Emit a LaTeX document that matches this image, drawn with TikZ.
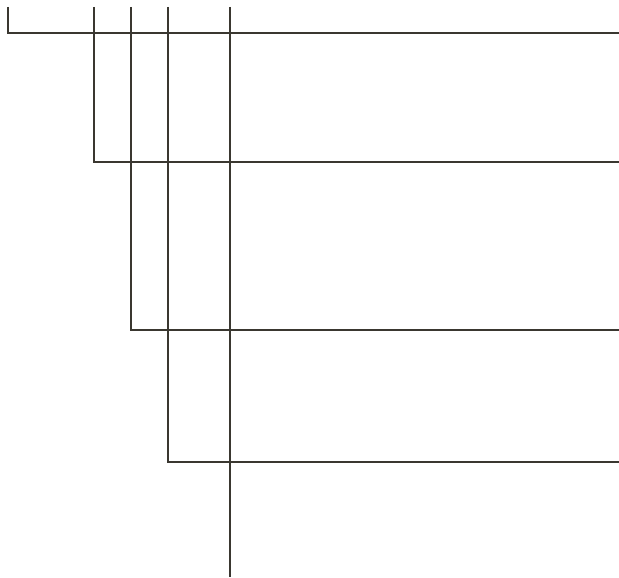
\documentclass[tikz,border=0pt]{standalone}
\definecolor{linecol}{HTML}{3A3730}
\begin{document}
\begin{tikzpicture}[x=1pt,y=-1pt,wire/.style={draw=linecol,line width=1.6pt,line cap=butt,line join=miter}]
\useasboundingbox (0,0) rectangle (619,578);
\coordinate (t1) at (8,7);   \coordinate (c1) at (8,33);   \coordinate (e1) at (619,33);
\coordinate (t2) at (94,7);  \coordinate (c2) at (94,162); \coordinate (e2) at (619,162);
\coordinate (t3) at (131,7); \coordinate (c3) at (131,330);\coordinate (e3) at (619,330);
\coordinate (t4) at (168,7); \coordinate (c4) at (168,462);\coordinate (e4) at (619,462);
\coordinate (t5) at (230,7); \coordinate (b5) at (230,577);
\draw[wire] (t1) -- (c1) -- (e1);
\draw[wire] (t2) -- (c2) -- (e2);
\draw[wire] (t3) -- (c3) -- (e3);
\draw[wire] (t4) -- (c4) -- (e4);
\draw[wire] (t5) -- (b5);
\end{tikzpicture}
\end{document}
